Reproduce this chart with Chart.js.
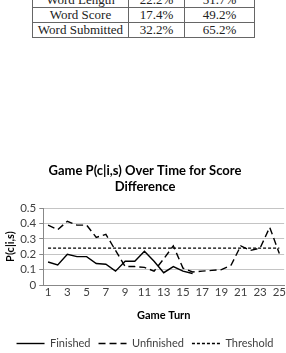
<!DOCTYPE html>
<html>
<head>
<meta charset="utf-8">
<script src="https://cdn.jsdelivr.net/npm/chart.js@4/dist/chart.umd.min.js"></script>
<style>
  body { margin: 0; background: #fff; width: 286px; height: 353px; overflow: hidden; position: relative; }
  table { position: absolute; left: 32px; top: -8px; border-collapse: collapse; font-family: "Liberation Serif", serif; font-size: 13px; color: #222; }
  td { border: 1px solid #666; height: 14px; padding: 0; text-align: center; line-height: 14px; }
  #wrap { position: absolute; left: 0; top: 158px; }
</style>
</head>
<body>
<table>
  <tr><td style="width:95px">Word Length</td><td style="width:55px">22.2%</td><td style="width:69px">51.7%</td></tr>
  <tr><td>Word Score</td><td>17.4%</td><td>49.2%</td></tr>
  <tr><td>Word Submitted</td><td>32.2%</td><td>65.2%</td></tr>
</table>
<div id="wrap"><canvas id="chart" width="286" height="201"></canvas></div>
<script>
// Game P(c|i,s) over time for score difference
const turns = ['1', '2', '3', '4', '5', '6', '7', '8', '9', '10', '11', '12', '13', '14', '15', '16', '17', '18', '19', '20', '21', '22', '23', '24', '25'];
const finished = [0.15, 0.13, 0.20, 0.185, 0.185, 0.14, 0.135, 0.09, 0.155, 0.155, 0.22, 0.155, 0.08, 0.12, 0.09, 0.075, null, null, null, null, null, null, null, null, null];
const unfinished = [0.39, 0.36, 0.415, 0.39, 0.39, 0.31, 0.33, 0.225, 0.12, 0.12, 0.115, 0.09, 0.17, 0.255, 0.11, 0.085, 0.09, 0.095, 0.10, 0.13, 0.255, 0.225, 0.24, 0.375, 0.205];
const threshold = [0.24, 0.24, 0.24, 0.24, 0.24, 0.24, 0.24, 0.24, 0.24, 0.24, 0.24, 0.24, 0.24, 0.24, 0.24, 0.24, 0.24, 0.24, 0.24, 0.24, 0.24, 0.24, 0.24, 0.24, 0.24];

Chart.defaults.font.family = 'Lato';
Chart.defaults.color = '#404040';

const ctx = document.getElementById('chart');
new Chart(ctx, {
    type: 'line',
    data: {
        labels: turns,
        datasets: [{
            label: 'Finished',
            data: finished,
            borderColor: '#000',
            borderWidth: 1.4,
            pointRadius: 0,
            tension: 0
        }, {
            label: 'Unfinished',
            data: unfinished,
            borderColor: '#000',
            borderWidth: 1.4,
            borderDash: [7, 4],
            pointRadius: 0,
            tension: 0
        }, {
            label: 'Threshold',
            data: threshold,
            borderColor: '#000',
            borderWidth: 1.4,
            borderDash: [3, 2],
            pointRadius: 0,
            tension: 0
        }]
    },
    options: {
        responsive: false,
        animation: false,
        layout: { padding: { left: 4, right: 0, top: 0, bottom: 0 } },
        plugins: {
            title: {
                display: true,
                text: ['Game P(c|i,s) Over Time for Score', 'Difference'],
                color: '#000',
                font: { size: 13, weight: 'bold' },
                padding: { top: 5, bottom: 14 }
            },
            legend: {
                position: 'bottom',
                labels: {
                    usePointStyle: true,
                    pointStyle: 'line',
                    pointStyleWidth: 28,
                    boxHeight: 10,
                    color: '#404040',
                    font: { size: 11 },
                    padding: 8,
                    generateLabels: function (chart) {
                        const items = Chart.defaults.plugins.legend.labels.generateLabels(chart);
                        items.forEach(function (it) {
                            const ds = chart.data.datasets[it.datasetIndex];
                            it.lineDash = ds.borderDash || [];
                            it.lineWidth = 1.4;
                            it.strokeStyle = '#000';
                        });
                        return items;
                    }
                }
            },
            tooltip: { enabled: false }
        },
        scales: {
            x: {
                offset: true,
                grid: { display: false, drawTicks: false },
                border: { display: true, color: '#888' },
                ticks: {
                    autoSkip: false,
                    maxRotation: 0,
                    padding: 0,
                    font: { size: 11.5 },
                    callback: function (v, i) { return i % 2 === 0 ? turns[i] : ''; }
                },
                title: { display: true, text: 'Game Turn', color: '#000', font: { size: 11, weight: 'bold' }, padding: { top: 10, bottom: 8 } }
            },
            y: {
                min: 0,
                max: 0.5,
                ticks: {
                    stepSize: 0.1,
                    autoSkip: false,
                    font: { size: 11.5 },
                    callback: function (v) { return v === 0 ? '0' : v.toFixed(1); }
                },
                grid: { color: '#c4c4c4', tickColor: '#888', tickLength: 4 },
                border: { display: true, color: '#888' },
                title: { display: true, text: 'P(c|i,s)', color: '#000', font: { size: 11, weight: 'bold' }, padding: 0 }
            }
        }
    }
});
</script>
</body>
</html>
